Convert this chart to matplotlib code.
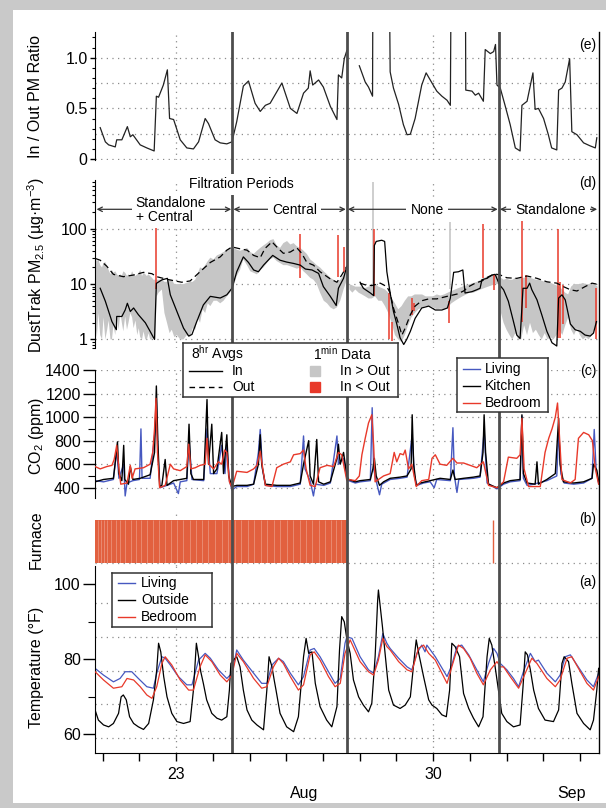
import numpy as np
import matplotlib
matplotlib.use('Agg')
import matplotlib.pyplot as plt
from matplotlib.patches import Rectangle
from matplotlib.ticker import MultipleLocator, FixedLocator, LogLocator, NullFormatter

plt.rcParams['font.family'] = ['Liberation Sans', 'DejaVu Sans']
plt.rcParams['mathtext.fontset'] = 'custom'
plt.rcParams['mathtext.rm'] = 'Liberation Sans'
plt.rcParams['mathtext.it'] = 'Liberation Sans:italic'
plt.rcParams['mathtext.bf'] = 'Liberation Sans:bold'
nan = np.nan

# ---- data (time in days of August; 32 = Sep 1) ----
filtration_bounds = [24.53, 27.65, 31.79]
period_edges = [20.80, 24.53, 27.65, 31.79, 34.50]
period_names = ['Standalone\n+ Central', 'Central', 'None', 'Standalone']

# (e) In/Out PM ratio, 8 hr
ratio_day = [20.93, 21.07, 21.16, 21.34, 21.38, 21.52, 21.67, 21.75, 21.82, 22.02,
             22.20, 22.40, 22.46, 22.52, 22.65, 22.76, 22.82, 22.93, 23.11, 23.29,
             23.47, 23.61, 23.79, 23.88, 24.06, 24.20, 24.38, 24.52, 24.65, 24.83,
             24.97, 25.15, 25.29, 25.43, 25.56, 25.88, 26.11, 26.29, 26.47, 26.60,
             26.65, 26.72, 26.88, 27.01, 27.20, 27.38, 27.42, 27.51, 27.58, 27.65,
             27.80,
             27.99, 28.06, 28.15, 28.24, 28.35, 28.37, 28.78, 28.83, 28.92, 29.06,
             29.19, 29.29, 29.38, 29.51, 29.69, 29.81, 29.97, 30.10, 30.24, 30.38,
             30.47, 30.51, 30.87, 30.89, 31.06, 31.15, 31.24, 31.37, 31.42, 31.56,
             31.65, 31.70, 31.74, 31.83, 31.96, 32.10, 32.24, 32.37, 32.42, 32.56,
             32.72, 32.78, 32.87, 33.01, 33.14, 33.23, 33.37, 33.42, 33.51, 33.60,
             33.72, 33.78, 33.92, 34.10, 34.28, 34.42, 34.46]
ratio = [0.31, 0.17, 0.14, 0.12, 0.19, 0.19, 0.32, 0.22, 0.24, 0.14,
         0.11, 0.08, 0.62, 0.61, 0.73, 0.88, 0.40, 0.39, 0.19, 0.11,
         0.10, 0.17, 0.40, 0.35, 0.19, 0.16, 0.15, 0.17, 0.37, 0.72,
         0.77, 0.55, 0.47, 0.53, 0.55, 0.75, 0.50, 0.45, 0.65, 0.70,
         0.87, 0.73, 0.78, 0.71, 0.52, 0.39, 0.83, 0.80, 0.99, 1.07,
         nan,
         0.92, 0.85, 0.76, 0.71, 0.62, 3.0, 3.0, 0.86, 0.70, 0.54,
         0.34, 0.24, 0.245, 0.40, 0.73, 0.85, 0.75, 0.67, 0.62, 0.58,
         0.53, 3.0, 3.0, 0.68, 0.67, 0.63, 0.65, 0.57, 1.08, 1.04,
         1.06, 1.13, 0.73, 0.70, 0.53, 0.34, 0.11, 0.08, 0.53, 0.57,
         0.85, 0.49, 0.50, 0.40, 0.24, 0.11, 0.09, 0.68, 0.70, 0.76,
         0.99, 0.27, 0.24, 0.16, 0.13, 0.11, 0.21]

# (d) PM2.5, 8 hr averages
pm_out_day = [20.80, 20.93, 21.11, 21.29, 21.56, 21.84, 22.11, 22.34, 22.47, 22.75,
              22.97, 23.15, 23.38, 23.65, 23.93, 24.20, 24.38, 24.52, 24.70, 24.93,
              25.11, 25.29, 25.42, 25.61, 25.74, 25.92, 26.11, 26.29, 26.42, 26.56,
              26.74, 26.92, 27.20, 27.38, 27.51, 27.65,
              27.80,
              28.01, 28.15, 28.33, 28.56, 28.74, 28.83, 28.92, 29.06, 29.15, 29.24,
              29.38, 29.51, 29.69, 29.88, 30.10, 30.38, 30.65, 30.83, 30.97, 31.15,
              31.33, 31.51, 31.69, 31.83, 32.01, 32.28, 32.56, 32.83, 33.10, 33.37,
              33.55, 33.74, 33.92, 34.14, 34.33, 34.45]
pm_out = [29, 27, 21, 15, 13.6, 14.6, 16.3, 15.4, 13.6, 12.2,
          11.4, 10.8, 11.4, 16.7, 24.6, 31, 41, 47, 44, 41,
          33, 30, 44, 58, 47, 36, 38, 45, 36, 24.6,
          22, 16.7, 12.4, 10.8, 14.6, 21,
          nan,
          10.4, 9.7, 9.4, 10.4, 9.0, 6.9, 3.7, 1.9, 1.2, 1.6,
          2.8, 4.0, 5.0, 5.4, 5.4, 6.0, 6.6, 7.5, 9.0, 10.4,
          11.4, 13.6, 15.2, 14.6, 13, 12.7, 14, 12.7, 11, 10.4,
          9.0, 7.9, 7.5, 9.0, 10.4, 10]

pm_in_day = [20.93, 21.07, 21.25, 21.37, 21.38, 21.52, 21.61, 21.67, 21.75, 21.84,
             21.97, 22.16, 22.29, 22.41, 22.46, 22.61, 22.76, 22.84, 23.02, 23.20,
             23.34, 23.43, 23.56, 23.74, 23.93, 24.20, 24.38, 24.52, 24.65, 24.83,
             24.97, 25.11, 25.24, 25.38, 25.63, 25.83, 26.01, 26.20, 26.38, 26.52,
             26.70, 26.88, 27.01, 27.20, 27.36, 27.42, 27.56, 27.65,
             27.80,
             28.01, 28.10, 28.29, 28.38, 28.40, 28.45, 28.60, 28.68, 28.74, 28.83,
             28.92, 29.01, 29.10, 29.20, 29.28, 29.38, 29.51, 29.69, 29.88, 30.06,
             30.24, 30.39, 30.47, 30.56, 30.69, 30.81, 30.87, 31.06, 31.19, 31.28,
             31.33, 31.47, 31.60, 31.69, 31.81, 31.92, 32.05, 32.19, 32.28, 32.37,
             32.45, 32.56, 32.63, 32.69, 32.83, 32.96, 33.10, 33.24, 33.37, 33.42,
             33.51, 33.60, 33.74, 33.87, 34.01, 34.14, 34.28, 34.37, 34.45]
pm_in = [8.4, 4.9, 2.1, 1.5, 2.6, 2.6, 3.4, 4.5, 3.2, 3.7,
         2.8, 2.0, 1.4, 1.0, 10.3, 11.9, 12.7, 6.4, 3.2, 1.6,
         1.15, 1.23, 2.1, 4.2, 6.0, 5.6, 6.4, 8.4, 16.7, 31,
         24.6, 18, 16.7, 22, 33, 27, 25, 23.6, 22, 18.7,
         18, 15.6, 9, 6.0, 4.1, 8.4, 12.7, 21,
         nan,
         10.8, 8.4, 6.9, 6.2, 50, 59, 62, 59, 16.7, 6.9,
         3.2, 1.9, 1.07, 0.81, 1.0, 1.4, 2.4, 3.7, 4.0, 3.4,
         3.4, 3.7, 5.6, 16.3, 16.7, 18, 6.9, 7.3, 7.9, 8.4,
         12, 12.7, 14.6, 15, 9.7, 7.9, 4.9, 2.1, 1.2, 1.04,
         8.4, 8.4, 10.4, 7.9, 5.2, 2.8, 1.4, 0.87, 0.76, 5.6,
         6.4, 5.2, 1.9, 1.5, 1.4, 1.2, 1.15, 1.3, 2.1]

# (d) 1 min data envelope
band_day = [20.79, 20.84, 20.88, 20.93, 20.98, 21.02, 21.07, 21.12, 21.16, 21.21,
            21.25, 21.29, 21.34, 21.39, 21.43, 21.48, 21.52, 21.56, 21.61, 21.66,
            21.70, 21.75, 21.80, 21.84, 21.89, 21.94, 21.98, 22.02, 22.07, 22.11,
            22.16, 22.20, 22.25, 22.29, 22.34, 22.38, 22.43,
            22.47, 22.52, 22.61, 22.68, 22.75, 22.82, 22.88, 22.95, 23.02, 23.11,
            23.20, 23.29, 23.38, 23.45, 23.52, 23.58, 23.65, 23.72, 23.79, 23.86,
            23.93, 24.02, 24.11, 24.20, 24.29, 24.38, 24.47, 24.53,
            24.56, 24.65, 24.74, 24.83, 24.93, 25.02, 25.11, 25.20, 25.29, 25.38,
            25.47, 25.56, 25.65, 25.74, 25.83, 25.92, 26.02, 26.11, 26.20, 26.29,
            26.38, 26.47, 26.56, 26.65, 26.74, 26.83, 26.92, 27.02, 27.11, 27.20,
            27.29, 27.38, 27.47, 27.56, 27.65,
            27.68,
            27.72, 27.80, 27.88, 27.97, 28.06, 28.15, 28.24, 28.33, 28.42, 28.51,
            28.60, 28.69, 28.78, 28.87, 28.96, 29.05, 29.14, 29.23, 29.32, 29.41,
            29.50, 29.60, 29.70, 29.80, 29.90, 30.00, 30.10, 30.20, 30.30, 30.40,
            30.50, 30.60, 30.70, 30.80, 30.90, 31.00, 31.10, 31.20, 31.30, 31.40,
            31.50, 31.60, 31.70, 31.79,
            31.85, 31.92, 32.00, 32.08, 32.16, 32.24, 32.32, 32.40, 32.48, 32.56,
            32.64, 32.72, 32.80, 32.88, 32.96, 33.04, 33.12, 33.20, 33.28, 33.36,
            33.44, 33.52, 33.60, 33.68, 33.76, 33.84, 33.92, 34.00, 34.08, 34.16,
            34.24, 34.32, 34.40, 34.48]
band_lo = [2, 1.1, 3, 1.2, 1.0, 2.5, 1.0, 1.5, 2.2, 1.0,
           1.0, 1.8, 1.2, 2.6, 1.5, 3.0, 2.0, 1.4, 2.6, 1.5,
           2.0, 3.0, 2.5, 1.6, 2.2, 1.2, 1.6, 1.1, 1.0, 1.4,
           1.0, 1.0, 1.3, 1.0, 1.0, 1.1, 1.0,
           6, 7, 8, 3, 2, 1.3, 1.5, 1.1, 1.2, 1.0,
           1, 1.2, 1.1, 1.6, 1.5, 2.5, 2, 3.5, 3, 4.5,
           4, 5, 5, 4.5, 5, 6, 7, 9,
           9, 14, 18, 28, 22, 17, 16, 15, 18, 20,
           24, 28, 30, 26, 24, 22, 22, 21, 20, 19,
           20, 17, 15, 13, 12, 10, 7, 5, 4.5, 3.8,
           3.5, 3.8, 5, 8, 12,
           nan,
           8, 7, 8, 7, 6.5, 6, 5.5, 5.5, 6, 5,
           5, 4, 3, 2, 1.2, 1.0, 0.9, 1.2, 1.8, 2.5,
           3, 3.5, 3.8, 4, 4, 3.8, 3.5, 3.6, 3.5, 3.8,
           4.5, 5, 5.5, 6, 6.5, 7, 7, 7.5, 8, 8.5,
           9, 9.5, 10, 10,
           3, 2, 1.5, 1.2, 1.0, 1.3, 1.0, 1.0, 1.8, 1.2,
           2.0, 1.3, 1.5, 1.2, 1.0, 1.3, 1.0, 1.1, 1.0, 1.2,
           1.5, 1.2, 1.8, 2.5, 1.5, 1.2, 1.6, 1.2, 1.0, 1.1,
           1.0, 1.2, 1.5, 2]
band_hi = [30, 26, 28, 22, 20, 24, 25, 21, 18, 15,
           18, 16, 17, 15, 14, 15, 14, 17, 16, 14,
           15, 14, 17, 15, 14, 15, 16, 18, 14, 16,
           15, 14, 15, 14, 13, 12, 12,
           12, 12, 12, 11, 11, 12, 12, 10, 10, 10,
           10, 10.5, 11, 11, 12, 15, 20, 19, 22, 26,
           30, 28, 33, 35, 38, 42, 45, 45,
           45, 42, 40, 42, 45, 38, 35, 40, 45, 50,
           55, 62, 65, 50, 45, 55, 60, 52, 55, 48,
           45, 40, 35, 28, 25, 22, 20, 17, 15, 13,
           12, 11, 12, 15, 20,
           nan,
           10, 9.5, 9, 9, 9, 8.5, 9, 9.5, 10, 9,
           8.5, 8, 7, 5.5, 4.5, 3.5, 4, 5, 6, 6,
           6.5, 6.5, 6.5, 6, 6, 6, 6.5, 6.2, 6.5, 7,
           7.5, 8, 8.5, 9, 9.5, 10, 10.5, 11, 12, 13,
           14, 14.5, 15, 14,
           13, 12, 12.5, 12, 12, 13, 12.5, 13, 13, 13.5,
           13, 12.5, 12, 12, 11.5, 11, 11, 10.5, 10, 9.5,
           9, 8, 7, 6.5, 9, 10, 10, 10, 10.5, 10,
           10, 10.5, 10, 9]

# (d) 1 min spikes, In < Out (red) and In > Out (gray)
red_spike_day = [22.45, 26.38, 27.40, 27.58, 28.38, 28.81, 28.88, 29.42, 29.49,
                 30.42, 31.37, 31.67, 32.42, 32.52, 33.39, 33.46, 33.53, 34.43]
red_spike_lo = [8, 12.7, 13.6, 16.7, 6, 1, 0.93, 2.8, 3.2,
                2, 12.7, 7.9, 2.1, 3.7, 1.07, 1.07, 1.9, 1.0]
red_spike_hi = [130, 81, 76, 47, 100, 6.9, 2.1, 5.6, 4.5,
                4.9, 123, 14.6, 141, 14.6, 100, 11, 9.7, 8.4]
gray_spike_day = [28.37, 30.47]
gray_spike_lo = [10, 8]
gray_spike_hi = [690, 130]

# (c) CO2 (ppm)
co2_living_day = [20.79, 21.02, 21.29, 21.38, 21.44, 21.57, 21.61, 21.66, 21.82, 22.00,
                  22.04, 22.07, 22.29, 22.43, 22.46, 22.50, 22.56, 22.75, 22.93, 23.06,
                  23.11, 23.29, 23.35, 23.43, 23.75, 23.84, 23.93, 24.11, 24.24, 24.33,
                  24.38, 24.45, 24.52, 24.65, 24.93, 25.11, 25.24, 25.29, 25.35, 25.43,
                  25.74, 26.11, 26.38, 26.47, 26.51, 26.65, 26.74, 26.79, 27.02, 27.20,
                  27.38, 27.42, 27.56, 27.65,
                  27.70, 27.88, 28.01, 28.29, 28.34, 28.38, 28.47, 28.54, 28.60, 28.83,
                  29.10, 29.29, 29.43, 29.49, 29.56, 29.74, 29.92, 30.03, 30.10, 30.47,
                  30.54, 30.58, 30.65, 30.70, 31.10, 31.28, 31.39, 31.47, 31.74, 31.92,
                  32.10, 32.37, 32.42, 32.46, 32.56, 32.74, 33.10, 33.37, 33.42, 33.48,
                  33.57, 33.83, 34.10, 34.33, 34.39, 34.44, 34.51]
co2_living = [460, 450, 470, 720, 480, 600, 330, 440, 460, 470,
              900, 480, 480, 900, 1150, 700, 400, 420, 440, 350,
              450, 460, 800, 470, 460, 900, 520, 520, 760, 520,
              760, 460, 380, 410, 410, 430, 700, 895, 560, 420,
              410, 410, 430, 840, 560, 460, 330, 430, 420, 440,
              840, 600, 650, 480,
              460, 440, 450, 460, 1080, 560, 430, 340, 430, 470,
              480, 490, 850, 500, 420, 440, 450, 400, 470, 460,
              910, 500, 360, 470, 480, 490, 880, 440, 390, 430,
              450, 460, 1010, 480, 420, 430, 460, 500, 880, 520,
              440, 430, 440, 480, 895, 560, 440]

co2_kitchen_day = [20.79, 21.02, 21.29, 21.37, 21.40, 21.44, 21.52, 21.57, 21.60, 21.70,
                   21.75, 21.82, 22.02, 22.29, 22.41, 22.46, 22.50, 22.55, 22.61, 22.70,
                   22.75, 22.93, 23.11, 23.29, 23.35, 23.40, 23.47, 23.75, 23.84, 23.88,
                   23.97, 24.02, 24.11, 24.24, 24.29, 24.38, 24.43, 24.52, 24.65, 24.93,
                   25.11, 25.24, 25.29, 25.33, 25.43, 25.74, 26.11, 26.38, 26.47, 26.54,
                   26.61, 26.65, 26.74, 26.83, 26.88, 27.02, 27.20, 27.38, 27.42, 27.47,
                   27.56, 27.65,
                   27.70, 27.88, 28.01, 28.29, 28.36, 28.40, 28.45, 28.54, 28.65, 28.83,
                   29.10, 29.29, 29.40, 29.43, 29.47, 29.54, 29.65, 29.92, 30.19, 30.47,
                   30.54, 30.60, 30.83, 31.10, 31.28, 31.36, 31.39, 31.43, 31.51, 31.74,
                   31.92, 32.10, 32.37, 32.42, 32.46, 32.56, 32.78, 32.83, 32.87, 33.10,
                   33.33, 33.42, 33.46, 33.55, 33.83, 34.10, 34.33, 34.37, 34.46, 34.51]
co2_kitchen = [450, 470, 480, 700, 790, 520, 460, 760, 470, 430,
               580, 470, 480, 510, 700, 1265, 800, 410, 420, 640,
               420, 460, 470, 480, 940, 520, 470, 470, 1150, 600,
               940, 520, 560, 870, 520, 850, 500, 410, 420, 420,
               430, 600, 850, 600, 430, 420, 420, 440, 600, 700,
               800, 500, 430, 810, 450, 430, 450, 650, 770, 600,
               700, 500,
               470, 450, 460, 470, 560, 650, 500, 420, 450, 480,
               490, 500, 560, 1020, 600, 420, 440, 460, 480, 470,
               550, 470, 480, 490, 500, 700, 1020, 700, 430, 400,
               440, 460, 470, 1020, 520, 440, 430, 620, 430, 470,
               520, 990, 600, 450, 440, 450, 480, 600, 550, 450]

co2_bedroom_day = [20.79, 20.93, 21.11, 21.25, 21.31, 21.38, 21.44, 21.49, 21.66, 21.75,
                   21.80, 21.88, 22.11, 22.29, 22.36, 22.41, 22.45, 22.49, 22.55, 22.70,
                   22.84, 22.93, 23.11, 23.29, 23.34, 23.40, 23.52, 23.65, 23.79, 23.84,
                   23.89, 24.02, 24.15, 24.24, 24.32, 24.38, 24.45, 24.52, 24.65, 24.93,
                   25.11, 25.20, 25.29, 25.36, 25.43, 25.61, 25.74, 25.92, 26.11, 26.20,
                   26.38, 26.47, 26.54, 26.65, 26.79, 26.92, 27.11, 27.29, 27.42, 27.51,
                   27.65,
                   27.70, 27.88, 27.99, 28.06, 28.15, 28.24, 28.33, 28.38, 28.42, 28.65,
                   28.83, 28.94, 29.01, 29.10, 29.19, 29.24, 29.33, 29.42, 29.54, 29.69,
                   29.88, 29.97, 30.06, 30.19, 30.37, 30.54, 30.65, 30.83, 31.01, 31.19,
                   31.37, 31.51, 31.74, 31.92, 32.05, 32.28, 32.37, 32.42, 32.48, 32.60,
                   32.92, 33.05, 33.15, 33.24, 33.33, 33.39, 33.45, 33.51, 33.74, 33.87,
                   33.96, 34.10, 34.24, 34.34, 34.42, 34.51]
co2_bedroom = [580, 560, 580, 590, 640, 760, 560, 430, 440, 590,
               480, 560, 570, 600, 700, 900, 1160, 700, 400, 420,
               600, 560, 545, 580, 770, 560, 570, 590, 600, 820,
               600, 560, 620, 600, 720, 700, 450, 400, 540, 530,
               560, 590, 710, 560, 420, 410, 570, 600, 620, 680,
               690, 720, 560, 420, 410, 570, 590, 580, 700, 680,
               460,
               470, 460, 500, 680, 820, 950, 1020, 760, 450, 500,
               520, 700, 620, 690, 680, 720, 560, 600, 410, 460,
               470, 650, 680, 600, 590, 650, 610, 610, 590, 570,
               620, 420, 400, 450, 660, 650, 680, 990, 560, 410,
               410, 700, 820, 900, 1000, 1120, 800, 470, 440, 470,
               820, 870, 850, 800, 560, 430]

# (b) furnace on periods and short off gaps
furnace_start = [20.78]
furnace_end = [27.65]
furnace_single = [31.63]
furnace_gaps = [20.86, 20.95, 21.03, 21.12, 21.22, 21.35, 21.48, 21.61, 21.76, 21.90,
                22.05, 22.21, 22.37, 22.52, 22.69, 22.86, 23.02, 23.19, 23.37, 23.53,
                23.71, 23.88, 24.06, 24.24, 24.41, 24.60, 24.77, 24.95, 25.12, 25.30,
                25.47, 25.66, 25.84, 26.01, 26.19, 26.36, 26.54, 26.71, 26.88, 27.05,
                27.21, 27.36, 27.50]

# (a) temperature (F)
t_outside_day = [20.79, 20.88, 21.02, 21.16, 21.29, 21.43, 21.50, 21.56, 21.64, 21.73,
                 21.84, 21.97, 22.11, 22.25, 22.38, 22.47, 22.52, 22.58, 22.66, 22.75,
                 22.88, 23.02, 23.20, 23.38, 23.47, 23.55, 23.61, 23.67, 23.74, 23.83,
                 23.97, 24.11, 24.24, 24.38, 24.45, 24.49, 24.56, 24.65, 24.74, 24.83,
                 24.93, 25.06, 25.20, 25.38, 25.47, 25.53, 25.61, 25.67, 25.72, 25.83,
                 26.01, 26.20, 26.33, 26.47, 26.54, 26.61, 26.70, 26.79, 26.92, 27.10,
                 27.24, 27.38, 27.45, 27.51, 27.58, 27.65, 27.74, 27.83, 27.97, 28.10,
                 28.24, 28.33, 28.42, 28.49, 28.51, 28.56, 28.62, 28.70, 28.79, 28.92,
                 29.10, 29.24, 29.38, 29.49, 29.54, 29.60, 29.74, 29.88, 29.97, 30.10,
                 30.24, 30.36, 30.45, 30.51, 30.60, 30.72, 30.83, 30.97, 31.10, 31.24,
                 31.36, 31.47, 31.53, 31.60, 31.69, 31.78, 31.87, 32.01, 32.19, 32.37,
                 32.45, 32.51, 32.57, 32.65, 32.74, 32.87, 33.05, 33.28, 33.42, 33.51,
                 33.57, 33.69, 33.78, 33.92, 34.10, 34.28, 34.37, 34.46, 34.51]
t_outside = [66.5, 63.8, 62.5, 62.0, 62.9, 65.6, 70.0, 70.5, 69.2, 64.7,
             62.9, 62.0, 61.3, 62.9, 69.2, 77.2, 84.3, 82.0, 75.4, 70.0,
             65.6, 63.4, 62.9, 63.4, 71.8, 84.3, 80.7, 76.7, 73.6, 69.2,
             65.6, 64.3, 63.8, 64.7, 71.8, 78.9, 79.8, 80.7, 78.0, 71.8,
             66.5, 63.8, 62.5, 61.2, 71.8, 80.7, 78.0, 74.5, 71.8, 65.6,
             62.0, 60.7, 64.7, 80.7, 85.6, 81.6, 82.0, 73.6, 67.4, 63.8,
             62.0, 67.4, 82.5, 91.4, 90.0, 85.4, 81.6, 74.5, 70.0, 67.8,
             66.0, 68.3, 80.7, 95.8, 98.5, 94.0, 88.7, 80.7, 71.8, 67.8,
             66.9, 67.8, 70.0, 80.7, 85.2, 82.0, 75.4, 69.2, 67.8, 66.9,
             65.2, 64.7, 71.8, 84.3, 83.4, 80.7, 70.9, 66.9, 64.3, 62.0,
             64.7, 80.7, 85.6, 83.8, 78.0, 71.8, 65.6, 63.4, 62.0, 62.5,
             72.7, 82.0, 81.2, 77.2, 71.8, 66.9, 63.8, 63.4, 66.5, 78.9,
             80.7, 79.4, 73.6, 65.6, 62.9, 61.2, 63.8, 71.8, 77.6]

t_living_day = [20.79, 21.02, 21.29, 21.47, 21.61, 21.79, 21.97, 22.20, 22.38, 22.47,
                22.61, 22.70, 22.84, 23.06, 23.29, 23.43, 23.61, 23.79, 23.93, 24.15,
                24.38, 24.52, 24.65, 24.83, 25.11, 25.33, 25.47, 25.61, 25.79, 25.92,
                26.11, 26.33, 26.47, 26.65, 26.76, 26.92, 27.15, 27.33, 27.47, 27.60,
                27.65, 27.79, 28.01, 28.24, 28.38, 28.51, 28.63, 28.74, 28.83, 29.06,
                29.29, 29.42, 29.56, 29.69, 29.78, 29.83, 30.06, 30.38, 30.51, 30.65,
                30.78, 30.97, 31.19, 31.37, 31.51, 31.65, 31.74, 31.83, 32.01, 32.19,
                32.33, 32.46, 32.65, 32.78, 32.87, 33.10, 33.33, 33.46, 33.60, 33.74,
                33.92, 34.19, 34.37, 34.51]
t_living = [77.6, 75.8, 74.0, 74.9, 76.7, 76.7, 74.9, 72.7, 72.3, 76.3,
            80.7, 80.3, 78.5, 75.4, 73.2, 73.2, 79.8, 81.6, 80.3, 77.2,
            74.9, 76.3, 82.5, 79.8, 76.3, 73.6, 73.6, 78.5, 80.3, 79.4,
            76.3, 73.2, 75.4, 82.5, 82.9, 80.7, 76.7, 73.6, 74.9, 84.3,
            86.0, 85.6, 80.7, 77.2, 76.3, 80.7, 86.9, 84.3, 82.9, 80.3,
            78.0, 77.2, 81.6, 83.8, 82.0, 83.8, 80.7, 75.4, 78.5, 83.4,
            83.8, 81.2, 77.2, 74.0, 78.9, 82.9, 81.6, 78.9, 77.2, 74.9,
            72.7, 76.7, 81.6, 79.4, 79.8, 76.3, 74.0, 75.8, 80.7, 81.2,
            78.5, 74.5, 72.7, 76.3]

t_bedroom_day = [20.79, 21.02, 21.29, 21.52, 21.66, 21.84, 22.02, 22.20, 22.34, 22.47,
                 22.61, 22.70, 22.88, 23.11, 23.34, 23.47, 23.65, 23.79, 23.97, 24.20,
                 24.38, 24.52, 24.65, 24.83, 25.11, 25.33, 25.47, 25.65, 25.79, 25.92,
                 26.11, 26.33, 26.47, 26.65, 26.76, 26.92, 27.15, 27.33, 27.47, 27.60,
                 27.74, 28.01, 28.24, 28.38, 28.51, 28.63, 28.74, 28.83, 29.06, 29.29,
                 29.42, 29.60, 29.74, 29.88, 30.06, 30.38, 30.51, 30.69, 30.83, 31.01,
                 31.19, 31.37, 31.56, 31.74, 31.83, 31.92, 32.10, 32.33, 32.51, 32.69,
                 32.83, 33.10, 33.33, 33.46, 33.65, 33.78, 33.96, 34.19, 34.37, 34.51]
t_bedroom = [76.7, 74.5, 72.3, 72.7, 74.9, 74.5, 72.7, 70.5, 69.6, 72.7,
             78.9, 80.7, 78.5, 74.5, 71.8, 71.8, 78.0, 81.2, 79.4, 75.8,
             74.0, 75.8, 81.6, 79.4, 74.9, 72.3, 72.7, 78.0, 80.3, 78.9,
             75.4, 71.8, 73.2, 81.2, 82.0, 79.8, 75.4, 72.7, 73.6, 81.6,
             85.2, 79.4, 76.7, 75.8, 79.8, 85.6, 83.4, 82.5, 79.4, 77.2,
             76.7, 82.9, 83.8, 81.6, 79.8, 73.6, 78.0, 83.8, 82.9, 80.3,
             76.3, 73.2, 77.2, 79.4, 78.0, 78.0, 75.4, 72.3, 76.3, 80.3,
             78.9, 74.9, 72.7, 74.5, 80.3, 80.7, 77.6, 73.6, 71.8, 75.4]

# ---- styling ----
W, H = 606, 808
DAY0, DAY1 = 20.78, 34.52
X0, X1 = 94.7, 599.0
BLUE = '#4658c0'
RED = '#e8392a'
GRAYBAND = '#c6c6c6'
FURN = '#e2603f'
GRID = dict(color='#8c8c8c', lw=0.9, ls=(0, (1, 3.5)), zorder=0)

fig = plt.figure(figsize=(W / 100, H / 100), dpi=100, facecolor='#c9c9c9')
fig.patches.append(Rectangle((13 / W, 1 - 803 / H), (W - 13) / W, (803 - 10) / H,
                             transform=fig.transFigure, fc='white', ec='none', zorder=-10))


def panel(top, bottom, major_len, minor_len):
    ax = fig.add_axes([X0 / W, 1 - bottom / H, (X1 - X0) / W, (bottom - top) / H])
    ax.set_xlim(DAY0, DAY1)
    ax.patch.set_visible(False)
    for s in ('top', 'right', 'bottom'):
        ax.spines[s].set_visible(False)
    ax.tick_params(axis='x', which='both', bottom=False, labelbottom=False)
    ax.tick_params(axis='y', which='major', direction='out', length=major_len,
                   width=1.0, labelsize=11.5, pad=1.5)
    ax.tick_params(axis='y', which='minor', direction='out', length=minor_len, width=0.8)
    for d in (23, 30):
        ax.axvline(d, **GRID)
    return ax


# (e)
ax_e = panel(32.3, 160.3, 3.6, 2.4)
ax_e.set_ylim(-0.012, 1.25)
ax_e.set_yticks([0, 0.5, 1.0])
ax_e.set_yticklabels(['0', '0.5', '1.0'])
ax_e.yaxis.set_minor_locator(MultipleLocator(0.1))
for v in (0, 0.25, 0.5, 0.75, 1.0):
    ax_e.axhline(v, **GRID)
ax_e.plot(ratio_day, ratio, color='#222222', lw=0.9)

# (d)
ax_d = panel(180, 348, 3.6, 2.2)
ax_d.set_yscale('log')
ax_d.set_ylim(0.7, 760)
ax_d.set_yticks([1, 10, 100])
ax_d.set_yticklabels(['1', '10', '100'])
ax_d.yaxis.set_minor_locator(LogLocator(base=10, subs=np.arange(2, 10)))
ax_d.yaxis.set_minor_formatter(NullFormatter())
for v in (1, 10, 100):
    ax_d.axhline(v, **GRID)
ax_d.fill_between(band_day, band_lo, band_hi, color=GRAYBAND, lw=0, zorder=1)
ax_d.vlines(gray_spike_day, gray_spike_lo, gray_spike_hi, color=GRAYBAND, lw=1.2, zorder=1)
ax_d.vlines(red_spike_day, red_spike_lo, red_spike_hi, color=RED, lw=1.1, zorder=2)
ax_d.plot(pm_in_day, pm_in, color='black', lw=0.9, zorder=3)
ax_d.plot(pm_out_day, pm_out, color='black', lw=0.9, ls=(0, (5, 3)), zorder=3)

# (c)
ax_c = panel(369.5, 498.3, 8.6, 5.0)
ax_c.set_ylim(310, 1405)
ax_c.set_yticks(range(400, 1401, 200))
ax_c.yaxis.set_minor_locator(MultipleLocator(100))
for v in range(400, 1401, 200):
    ax_c.axhline(v, **GRID)
ax_c.plot(co2_living_day, co2_living, color=BLUE, lw=1.0, zorder=2)
ax_c.plot(co2_kitchen_day, co2_kitchen, color='black', lw=1.0, zorder=2)
ax_c.plot(co2_bedroom_day, co2_bedroom, color=RED, lw=1.0, zorder=3)

# (b)
ax_b = panel(512, 566, 0, 0)
ax_b.spines['left'].set_visible(False)
ax_b.set_ylim(-0.08, 1.2)
ax_b.set_yticks([])
for v in (0, 0.7):
    ax_b.axhline(v, **GRID)
ax_b.broken_barh([(s, e - s) for s, e in zip(furnace_start, furnace_end)], (0, 1),
                 facecolor=FURN, edgecolor='none', zorder=1)
ax_b.vlines(furnace_gaps, 0, 1, color='white', alpha=0.3, lw=0.6, zorder=2)
ax_b.vlines(furnace_single, 0, 1, color=FURN, lw=1.0, zorder=2)

# (a)
ax_a = panel(566, 752.7, 8.6, 5.0)
ax_a.set_ylim(55.1, 104.9)
ax_a.set_yticks([60, 80, 100])
ax_a.yaxis.set_minor_locator(FixedLocator([70, 90]))
for v in (59, 68, 77, 86, 95):
    ax_a.axhline(v, **GRID)
ax_a.plot(t_living_day, t_living, color=BLUE, lw=0.9, zorder=2)
ax_a.plot(t_outside_day, t_outside, color='black', lw=0.9, zorder=2)
ax_a.plot(t_bedroom_day, t_bedroom, color=RED, lw=0.9, zorder=3)
ax_a.spines['bottom'].set_visible(True)
ax_a.set_xticks([23, 30])
ax_a.set_xticklabels(['23', '30'])
ax_a.xaxis.set_minor_locator(FixedLocator([21, 22, 24, 25, 26, 27, 28, 29, 31, 32, 33, 34]))
ax_a.tick_params(axis='x', which='both', bottom=True, labelbottom=True, direction='out',
                 length=5.4, width=1.0, labelsize=11.5, pad=4.8)
ax_a.text(26.5, -0.216, 'Aug', transform=ax_a.get_xaxis_transform(),
          ha='center', va='center', fontsize=11.5)
ax_a.text(33.76, -0.216, 'Sep', transform=ax_a.get_xaxis_transform(),
          ha='center', va='center', fontsize=11.5)

# overlay: filtration boundaries, right frame, period annotations (y in pixels)
ov = fig.add_axes([X0 / W, 1 - 752.7 / H, (X1 - X0) / W, (752.7 - 32.3) / H])
ov.set_zorder(3)
ov.set_xlim(DAY0, DAY1)
ov.set_ylim(752.7, 32.3)
ov.patch.set_visible(False)
ov.set_xticks([])
ov.set_yticks([])
for s in ('top', 'left', 'bottom'):
    ov.spines[s].set_visible(False)
ov.spines['right'].set_linewidth(1.0)
for d in filtration_bounds:
    ov.axvline(d, color='#4d4d4d', lw=2.0, zorder=2)

ov.text(24.77, 184.3, 'Filtration Periods', ha='center', va='center', fontsize=10,
        zorder=5, bbox=dict(fc='white', ec='none', boxstyle='square,pad=0.25'))
pad = 0.03
for i, name in enumerate(period_names):
    a, b = period_edges[i] + pad, period_edges[i + 1] - pad
    ov.annotate('', xy=(a, 209.3), xytext=(b, 209.3),
                arrowprops=dict(arrowstyle='<->', color='#333333', lw=0.9,
                                shrinkA=0, shrinkB=0, mutation_scale=8), zorder=4)
label_x = [21.90, 26.22, 29.84, 33.19]
for name, lx in zip(period_names, label_x):
    ha = 'left' if '\n' in name else 'center'
    ov.text(lx, 210, name, ha=ha, va='center', fontsize=10, linespacing=1.05,
            zorder=5, bbox=dict(fc='white', ec='none', boxstyle='square,pad=0.3'))

# panel letters and y labels
for lab, y in (('(e)', 45), ('(d)', 183), ('(c)', 371), ('(b)', 519), ('(a)', 582)):
    fig.text(588 / W, 1 - y / H, lab, ha='center', va='center', fontsize=10)

ylabels = [('In / Out PM Ratio', 96),
           ('DustTrak PM$_\\mathregular{2.5}$ (µg·m$^\\mathregular{-3}$)', 265),
           ('CO$_\\mathregular{2}$ (ppm)', 436),
           ('Furnace', 540),
           ('Temperature (°F)', 667)]
for txt, y in ylabels:
    fig.text(36 / W, 1 - y / H, txt, rotation=90, ha='center', va='center', fontsize=11.5)


# legends drawn as small boxes in pixel units
def legend_box(x0, y0, x1, y1):
    lax = fig.add_axes([x0 / W, 1 - y1 / H, (x1 - x0) / W, (y1 - y0) / H])
    lax.set_zorder(10)
    lax.patch.set_facecolor('white')
    lax.patch.set_alpha(1)
    lax.set_xlim(0, x1 - x0)
    lax.set_ylim(y1 - y0, 0)
    lax.set_xticks([])
    lax.set_yticks([])
    for s in lax.spines.values():
        s.set_color('#333333')
        s.set_linewidth(1.1)
    return lax


lg = legend_box(182.5, 343, 398, 397)
lg.text(35.5, 11, '8$^\\mathregular{hr}$ Avgs', ha='center', va='center', fontsize=10)
lg.text(160.5, 11, '1$^\\mathregular{min}$ Data', ha='center', va='center', fontsize=10)
lg.plot([6.5, 39.5], [28.2, 28.2], color='black', lw=1.0)
lg.plot([6.5, 39.5], [44.2, 44.2], color='black', lw=1.0, ls=(0, (4, 3)))
lg.text(49.5, 28.2, 'In', va='center', fontsize=10)
lg.text(49.5, 44.2, 'Out', va='center', fontsize=10)
lg.plot([132.5], [28.2], 's', ms=7.5, color=GRAYBAND)
lg.plot([132.5], [44.2], 's', ms=7.5, color=RED)
lg.text(157.5, 28.2, 'In > Out', va='center', fontsize=10)
lg.text(157.5, 44.2, 'In < Out', va='center', fontsize=10)

lc = legend_box(456.7, 358.3, 548.3, 412.3)
for (name, col), y in zip((('Living', BLUE), ('Kitchen', 'black'), ('Bedroom', RED)),
                          (11, 27.7, 44.4)):
    lc.plot([6.3, 23.3], [y, y], color=col, lw=1.0)
    lc.text(28.3, y, name, va='center', fontsize=10)

la = legend_box(112, 572.7, 211.8, 626.7)
for (name, col), y in zip((('Living', BLUE), ('Outside', 'black'), ('Bedroom', RED)),
                          (10.6, 27.3, 44)):
    la.plot([6, 23], [y, y], color=col, lw=1.0)
    la.text(29, y, name, va='center', fontsize=10)

fig.savefig('out.png', dpi=100, facecolor=fig.get_facecolor())
